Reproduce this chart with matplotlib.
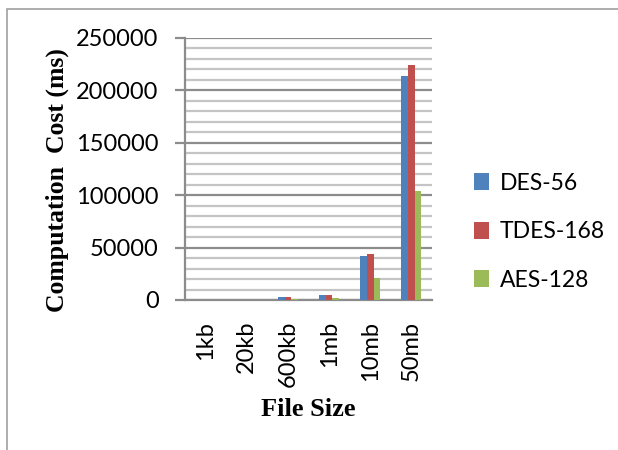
import matplotlib
matplotlib.use("Agg")
import matplotlib.pyplot as plt
import numpy as np
from matplotlib.patches import Rectangle
from matplotlib.ticker import MultipleLocator

categories = ["1kb", "20kb", "600kb", "1mb", "10mb", "50mb"]
series_names = ["DES-56", "TDES-168", "AES-128"]
des_56 = [20, 60, 2500, 4500, 42300, 213700]
tdes_168 = [40, 120, 2800, 5100, 43900, 224300]
aes_128 = [10, 40, 1200, 2000, 21300, 104000]
y_ticks = [0, 50000, 100000, 150000, 200000, 250000]
colors = ["#4F81BD", "#C0504D", "#9BBB59"]

fig = plt.figure(figsize=(6.18, 4.5), dpi=100)
fig.patches.append(Rectangle((7/618, -0.1), 1.2, 1 - 9/450 + 0.1, transform=fig.transFigure,
                             fill=False, edgecolor="#A0A0A0", linewidth=1.2))
ax = fig.add_axes([185/618, 1 - 300/450, (432 - 185)/618, (300 - 38)/450])

x = np.arange(len(categories))
w = 0.163
for i, (vals, name) in enumerate(zip([des_56, tdes_168, aes_128], series_names)):
    ax.bar(x + (i - 1) * w, vals, width=w, color=colors[i], label=name, zorder=3,
           edgecolor="none")

ax.set_xlim(-0.5, len(categories) - 0.5)
ax.set_ylim(0, 250000)
ax.set_yticks(y_ticks)
ax.yaxis.set_minor_locator(MultipleLocator(10000))
ax.grid(which="major", axis="y", color="#8C8C8C", linewidth=1.6, zorder=0)
ax.grid(which="minor", axis="y", color="#C4C4C4", linewidth=1.6, zorder=0)
ax.set_xticks(x)
ax.set_xticklabels(categories, rotation=90, fontsize=17, family="Lato")
ax.tick_params(axis="x", length=0, pad=15)
ax.tick_params(axis="y", which="major", length=7, width=1.6, color="#8C8C8C", labelsize=17, pad=12)
ax.tick_params(axis="y", which="minor", length=0)
for lab in ax.get_yticklabels():
    lab.set_family("Lato")
for s in ["top", "right"]:
    ax.spines[s].set_visible(False)
ax.spines["left"].set_color("#8C8C8C")
ax.spines["left"].set_linewidth(1.6)
ax.spines["bottom"].set_color("#8C8C8C")
ax.spines["bottom"].set_linewidth(1.6)

ax.set_ylabel("Computation  Cost (ms)", family="Liberation Serif", fontweight="bold",
              fontsize=18.5)
ax.yaxis.set_label_coords((69 - 185) / 247, 0.458)
ax.set_xlabel("File Size", family="Liberation Serif", fontweight="bold", fontsize=19)
ax.xaxis.set_label_coords((308 - 185) / 247, -(398 - 300) / 262)

leg = ax.legend(loc="center left", bbox_to_anchor=(1.172, 0.26), frameon=False,
                prop={"family": "Lato", "size": 16.5}, handlelength=0.65, handleheight=0.75,
                labelspacing=1.2, handletextpad=0.45, borderpad=0, borderaxespad=0)

fig.savefig("out.png", dpi=100)
